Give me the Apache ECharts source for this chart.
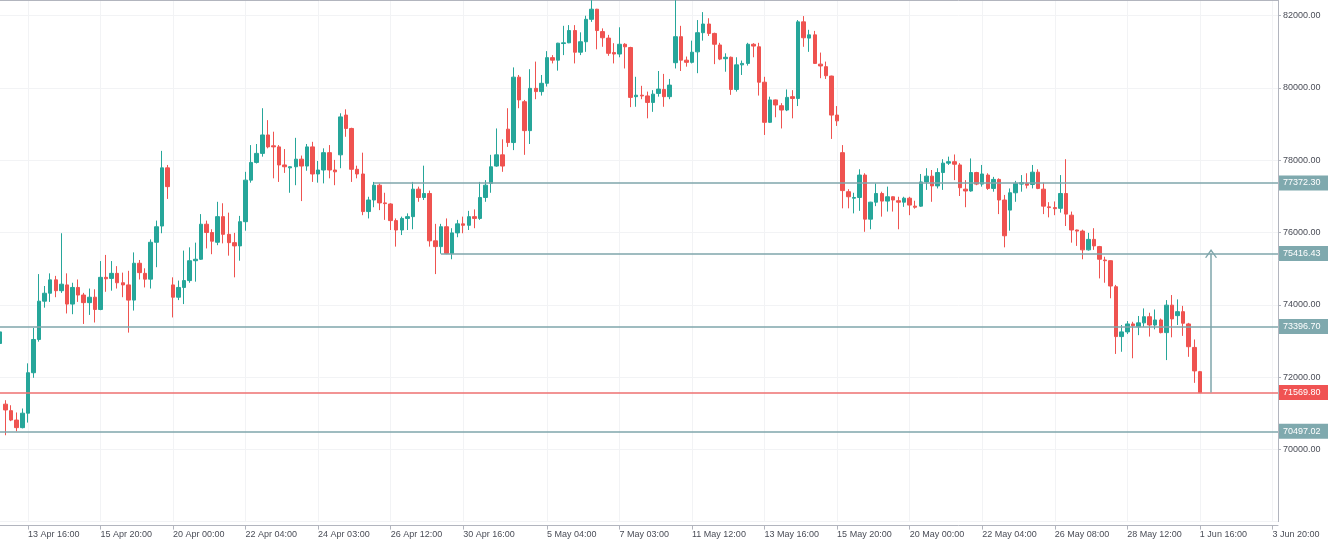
<!DOCTYPE html>
<html>
<head>
<meta charset="utf-8">
<script src="https://cdn.jsdelivr.net/npm/echarts@6/dist/echarts.min.js"></script>
<style>
  html, body { margin: 0; padding: 0; background: #ffffff; }
  #chart { width: 1328px; height: 545px; }
</style>
</head>
<body>
<div id="chart"></div>
<script>
// bar numbers are counted from the "13 Apr 16:00" bar (= 0), 4h candles
const firstBar = -5;
const lastBar = 224;

const opens = [
  72930, 71250, 71070, 70810, 70600, 71000, 72120, 73040, 74100, 74320,
  74690, 74390, 74550, 74020, 74480, 74270, 74060, 74210, 73870, 74760,
  74730, 74870, 74610, 74550, 74130, 75150, 74870, 74710, 75730, 76180,
  77790, 74550, 74210, 74480, 74670, 75220, 75260, 76230, 76000, 75730,
  76440, 75950, 75720, 75630, 76300, 77450, 77940, 78190, 78700, 78400,
  78370, 77870, 77790, 77820, 78030, 77840, 78370, 77620, 77730, 78210,
  77730, 78150, 79250, 78880, 77750, 77620, 76580, 76900, 77310, 76820,
  76790, 76330, 76070, 76390, 76440, 77200, 76970, 77080, 75770, 75610,
  76160, 75420, 75990, 76240, 76200, 76440, 76390, 76970, 77360, 77840,
  78150, 78860, 78490, 80300, 79620, 78820, 79990, 79900, 80130, 80840,
  80770, 81230, 81250, 81590, 80990, 81280, 81900, 82180, 81560, 81380,
  80980, 80940, 81210, 81120, 79760, 79800, 79780, 79600, 79850, 79960,
  79760, 80700, 81420, 80770, 80710, 81000, 81530, 81770, 81510, 81190,
  80810, 80850, 79960, 80640, 80680, 81210, 81140, 80160, 79050, 79670,
  79510, 79390, 79760, 79710, 81830, 81380, 81470, 80660, 80590, 80330,
  79250, 78210, 77130, 76950, 76970, 77590, 76370, 76840, 77080, 76870,
  76990, 76880, 76840, 76950, 76730, 76730, 77400, 77560, 77290, 77660,
  77920, 77960, 77870, 77200, 77150, 77660, 77340, 77590, 77220, 77470,
  76900, 76620, 77100, 77340, 77360, 77330, 77670, 77200, 76710, 76690,
  76670, 77080, 76480, 76070, 76040, 75520, 75810, 75610, 75240, 75220,
  74500, 73120, 73250, 73470, 73390, 73500, 73670, 73440, 73580, 73230,
  73990, 73700, 73810, 73470, 72820, 72150
];
const closes = [
  73250, 71090, 70810, 70600, 71000, 72120, 73040, 74100, 74320, 74690,
  74390, 74570, 74020, 74480, 74270, 74060, 74210, 73870, 74760, 74720,
  74870, 74610, 74550, 74130, 75150, 74890, 74710, 75730, 76160, 77790,
  77270, 74210, 74480, 74670, 75220, 75260, 76230, 76000, 75760, 76440,
  75950, 75720, 75630, 76300, 77450, 77940, 78190, 78700, 78370, 78370,
  77870, 77820, 77820, 78030, 77840, 78370, 77620, 77730, 78210, 77730,
  77680, 79200, 78880, 77750, 77620, 76580, 76900, 77310, 76820, 76800,
  76330, 76070, 76390, 76440, 77200, 76970, 77080, 75770, 75610, 76160,
  75420, 75990, 76240, 76200, 76440, 76390, 76970, 77310, 77820, 78150,
  77840, 78490, 80300, 79670, 78820, 79990, 79900, 80130, 80840, 80770,
  81240, 81250, 81590, 80990, 81280, 81900, 82180, 81590, 81390, 80960,
  80940, 81210, 81140, 79740, 79800, 79780, 79600, 79830, 79970, 79760,
  80080, 81420, 80770, 80710, 80990, 81530, 81770, 81510, 81210, 80800,
  80850, 79960, 80640, 80680, 81210, 81160, 80160, 79050, 79670, 79530,
  79390, 79740, 79710, 81830, 81390, 81470, 80680, 80610, 80340, 79250,
  79090, 77160, 76990, 76970, 77590, 76370, 76840, 77080, 76870, 76990,
  76900, 76840, 76950, 76760, 76700, 77400, 77560, 77290, 77660, 77920,
  77960, 77890, 77240, 77150, 77660, 77340, 77620, 77220, 77470, 76900,
  75910, 77100, 77360, 77380, 77310, 77670, 77220, 76730, 76690, 76660,
  77080, 76510, 76070, 76040, 75520, 75810, 75630, 75260, 75220, 74520,
  73120, 73250, 73470, 73420, 73500, 73670, 73440, 73580, 73230, 73990,
  73610, 73810, 73490, 72840, 72170, 71569.80
];
const lows = [
  72900, 70390, 70780, 70497, 70580, 70740, 71980, 72980, 73920, 74080,
  74210, 74330, 73760, 73740, 74080, 73470, 73720, 73510, 73850, 74360,
  74390, 74450, 74210, 73230, 73840, 74700, 74480, 74450, 75040, 75980,
  76930, 73650, 74130, 74020, 74610, 74640, 75240, 75560, 75400, 75650,
  75700, 75360, 74760, 75220, 76050, 77380, 77910, 78100, 78330, 77500,
  77400, 77650, 77100, 77310, 76870, 77710, 77400, 77380, 77360, 77500,
  77310, 77780, 78650, 77400, 77500, 76480, 76390, 76700, 76620, 76350,
  76070, 75610, 75930, 76070, 76090, 76850, 76900, 75610, 74850, 75416,
  75400, 75260, 75870, 75980, 76070, 76120, 76350, 76850, 77100, 77820,
  77680, 78370, 78280, 79440, 78150, 78450, 79690, 79790, 80040, 80680,
  80480, 80910, 81240, 80680, 80910, 81000, 81830, 81070, 81140, 80890,
  80680, 80850, 80540, 79470, 79480, 79690, 79160, 79340, 79760, 79480,
  79690, 80540, 80470, 80590, 80680, 80410, 81310, 81440, 80660, 80770,
  80450, 79810, 79900, 80360, 80620, 80850, 79790, 78700, 79030, 79190,
  78880, 79360, 79160, 79500, 81140, 81000, 80670, 80270, 80250, 78590,
  78950, 76670, 76670, 76530, 76600, 76020, 76090, 76730, 76440, 76580,
  76580, 76090, 76710, 76480, 76660, 76710, 77180, 76850, 77220, 77180,
  77870, 77450, 77010, 76700, 77130, 77310, 77270, 77180, 77130, 76510,
  75590, 76050, 76850, 77130, 77220, 77220, 77200, 76510, 76420, 76480,
  76550, 76180, 75720, 75630, 75260, 75500, 75520, 74730, 74610, 74180,
  72640, 72700, 73190, 72520, 73160, 73390, 73120, 73320, 73210, 72470,
  73100, 73440, 73140, 72560, 71840, 71569.80
];
const highs = [
  73290, 71360, 71220, 71020, 71130, 72380, 73360, 74850, 74520, 74870,
  74800, 75980, 74870, 74610, 74700, 74330, 74450, 74430, 75210, 75380,
  75210, 75070, 74890, 74940, 75450, 75240, 75010, 75810, 76330, 78260,
  77870, 74760, 74670, 75500, 75590, 75720, 76510, 76330, 76090, 76850,
  76810, 76550, 75990, 76460, 77680, 78420, 78450, 79440, 79110, 78790,
  78420, 78310, 77830, 78620, 78130, 78450, 78510, 77980, 78330, 78420,
  78010, 79300, 79410, 78900, 77850, 78210, 76990, 77400, 77360, 77100,
  76810, 76390, 76440, 76530, 77400, 77270, 77850, 77160, 76240, 76240,
  76390, 76120, 76350, 76440, 76600, 76640, 77400, 77450, 78150, 78880,
  78580, 79440, 80570, 80360, 79670, 80520, 80730, 80360, 81020, 80910,
  81250, 81720, 81740, 81740, 81540, 82000, 82430, 82190, 81650, 81470,
  81240, 81680, 81240, 81140, 80310, 80060, 79900, 79940, 80470, 80390,
  80250, 82430, 81720, 80870, 81310, 81880, 82100, 81930, 81530, 81250,
  80960, 80870, 80850, 80760, 81250, 81240, 81250, 80310, 79760, 79680,
  79580, 79960, 79940, 81880, 81990, 81610, 81580, 80980, 80730, 80340,
  79500, 78420, 77200, 77100, 77750, 77640, 76850, 77360, 77130, 77270,
  77000, 76990, 76990, 76990, 76880, 77620, 77780, 77730, 77780, 78030,
  78100, 78160, 77920, 77450, 78050, 77680, 77870, 77640, 77540, 77500,
  77040, 77220, 77430, 77590, 77640, 77870, 77750, 77380, 76840, 76860,
  77590, 78030, 76580, 76080, 76080, 75990, 76120, 75630, 75330, 75230,
  74550, 73440, 73550, 73530, 73690, 73900, 73780, 73870, 73620, 74130,
  74270, 74150, 73970, 73500, 73040, 72170
];

const tickBars = [0, 13, 26, 39, 52, 65, 78, 93, 106, 119, 132, 145, 158, 171, 184, 197, 210, 223];
const tickLabels = [
  '13 Apr 16:00', '15 Apr 20:00', '20 Apr 00:00', '22 Apr 04:00', '24 Apr 03:00',
  '26 Apr 12:00', '30 Apr 16:00', '5 May 04:00', '7 May 03:00', '11 May 12:00',
  '13 May 16:00', '15 May 20:00', '20 May 00:00', '22 May 04:00', '26 May 08:00',
  '28 May 12:00', '1 Jun 16:00', '3 Jun 20:00'
];

// horizontal price levels; null start = across the whole chart
const levels = [77372.30, 75416.43, 73396.70, 71569.80, 70497.02];
const levelStartBars = [62, 74, null, null, null];
const levelIsRed = [false, false, false, true, false];
const arrowBar = 212;

const grayLine = '#7fa6ab';
const grayTag = '#7fa9ae';
const redLine = '#ee7070';
const redTag = '#f05353';

const bars = [];
for (let b = firstBar; b <= lastBar; b++) bars.push(String(b));
const tickAt = {};
tickBars.forEach((b, k) => { tickAt[b - firstBar] = tickLabels[k]; });
const onTick = (idx) => tickAt[idx] !== undefined;

const candles = opens.map((o, k) => [o, closes[k], lows[k], highs[k]]);

const levelLines = levels.map((v, k) => {
  const lineStyle = { color: levelIsRed[k] ? redLine : grayLine, width: 1.5, type: 'solid' };
  const label = {
    show: true,
    position: 'end',
    distance: 1,
    formatter: v.toFixed(2),
    color: '#ffffff',
    fontSize: 9,
    backgroundColor: levelIsRed[k] ? redTag : grayTag,
    padding: [3, 8, 3, 4]
  };
  if (levelStartBars[k] === null) {
    return { yAxis: v, lineStyle: lineStyle, label: label };
  }
  return [
    { coord: [levelStartBars[k] - firstBar, v], lineStyle: lineStyle, label: label },
    { coord: [lastBar - firstBar, v], lineStyle: lineStyle }
  ];
});

const arrowStyle = { color: grayLine, width: 1.5, type: 'solid' };
const arrowLine = [
  { coord: [arrowBar - firstBar, levels[3]], symbol: 'none', lineStyle: arrowStyle, label: { show: false } },
  {
    coord: [arrowBar - firstBar, levels[1]],
    symbol: 'path://M0,8 L5,0 L10,8 L9,8.6 L5,2.2 L1,8.6 Z',
    symbolSize: [12, 9],
    lineStyle: arrowStyle
  }
];

const chart = echarts.init(document.getElementById('chart'));

const option = {
  animation: false,
  backgroundColor: '#ffffff',
  textStyle: { fontFamily: 'Liberation Sans, Arial, sans-serif' },
  grid: { left: 0, right: 50, top: 0, bottom: 23.4 },
  xAxis: [
    {
      type: 'category',
      data: bars,
      boundaryGap: false,
      offset: 4,
      axisLine: { lineStyle: { color: '#b2b5be' } },
      axisTick: { interval: onTick, length: 4, lineStyle: { color: '#b2b5be' } },
      axisLabel: {
        interval: onTick,
        formatter: (val, idx) => tickAt[idx] || '',
        align: 'left',
        color: '#4a4d57',
        fontSize: 9,
        margin: 4
      },
      splitLine: { show: true, interval: onTick, lineStyle: { color: '#f2f3f5' } }
    },
    {
      type: 'category',
      data: bars,
      boundaryGap: false,
      position: 'top',
      axisLine: { lineStyle: { color: '#b2b5be' } },
      axisTick: { show: false },
      axisLabel: { show: false },
      splitLine: { show: false }
    }
  ],
  yAxis: {
    type: 'value',
    position: 'right',
    min: 68000,
    max: 82435,
    interval: 2000,
    axisLine: { show: true, lineStyle: { color: '#b2b5be' } },
    axisTick: { show: true, length: 3, lineStyle: { color: '#b2b5be' } },
    axisLabel: {
      formatter: (v) => v.toFixed(2),
      color: '#4a4d57',
      fontSize: 9,
      margin: 5,
      showMinLabel: false,
      showMaxLabel: false
    },
    splitLine: { lineStyle: { color: '#f2f3f5' } }
  },
  series: [
    {
      type: 'candlestick',
      data: candles,
      barWidth: 4,
      itemStyle: {
        color: '#26a69a',
        color0: '#ef5350',
        borderColor: '#26a69a',
        borderColor0: '#ef5350',
        borderWidth: 1
      },
      markLine: {
        silent: true,
        symbol: ['none', 'none'],
        animation: false,
        data: levelLines.concat([arrowLine])
      }
    }
  ]
};

chart.setOption(option);
</script>
</body>
</html>
